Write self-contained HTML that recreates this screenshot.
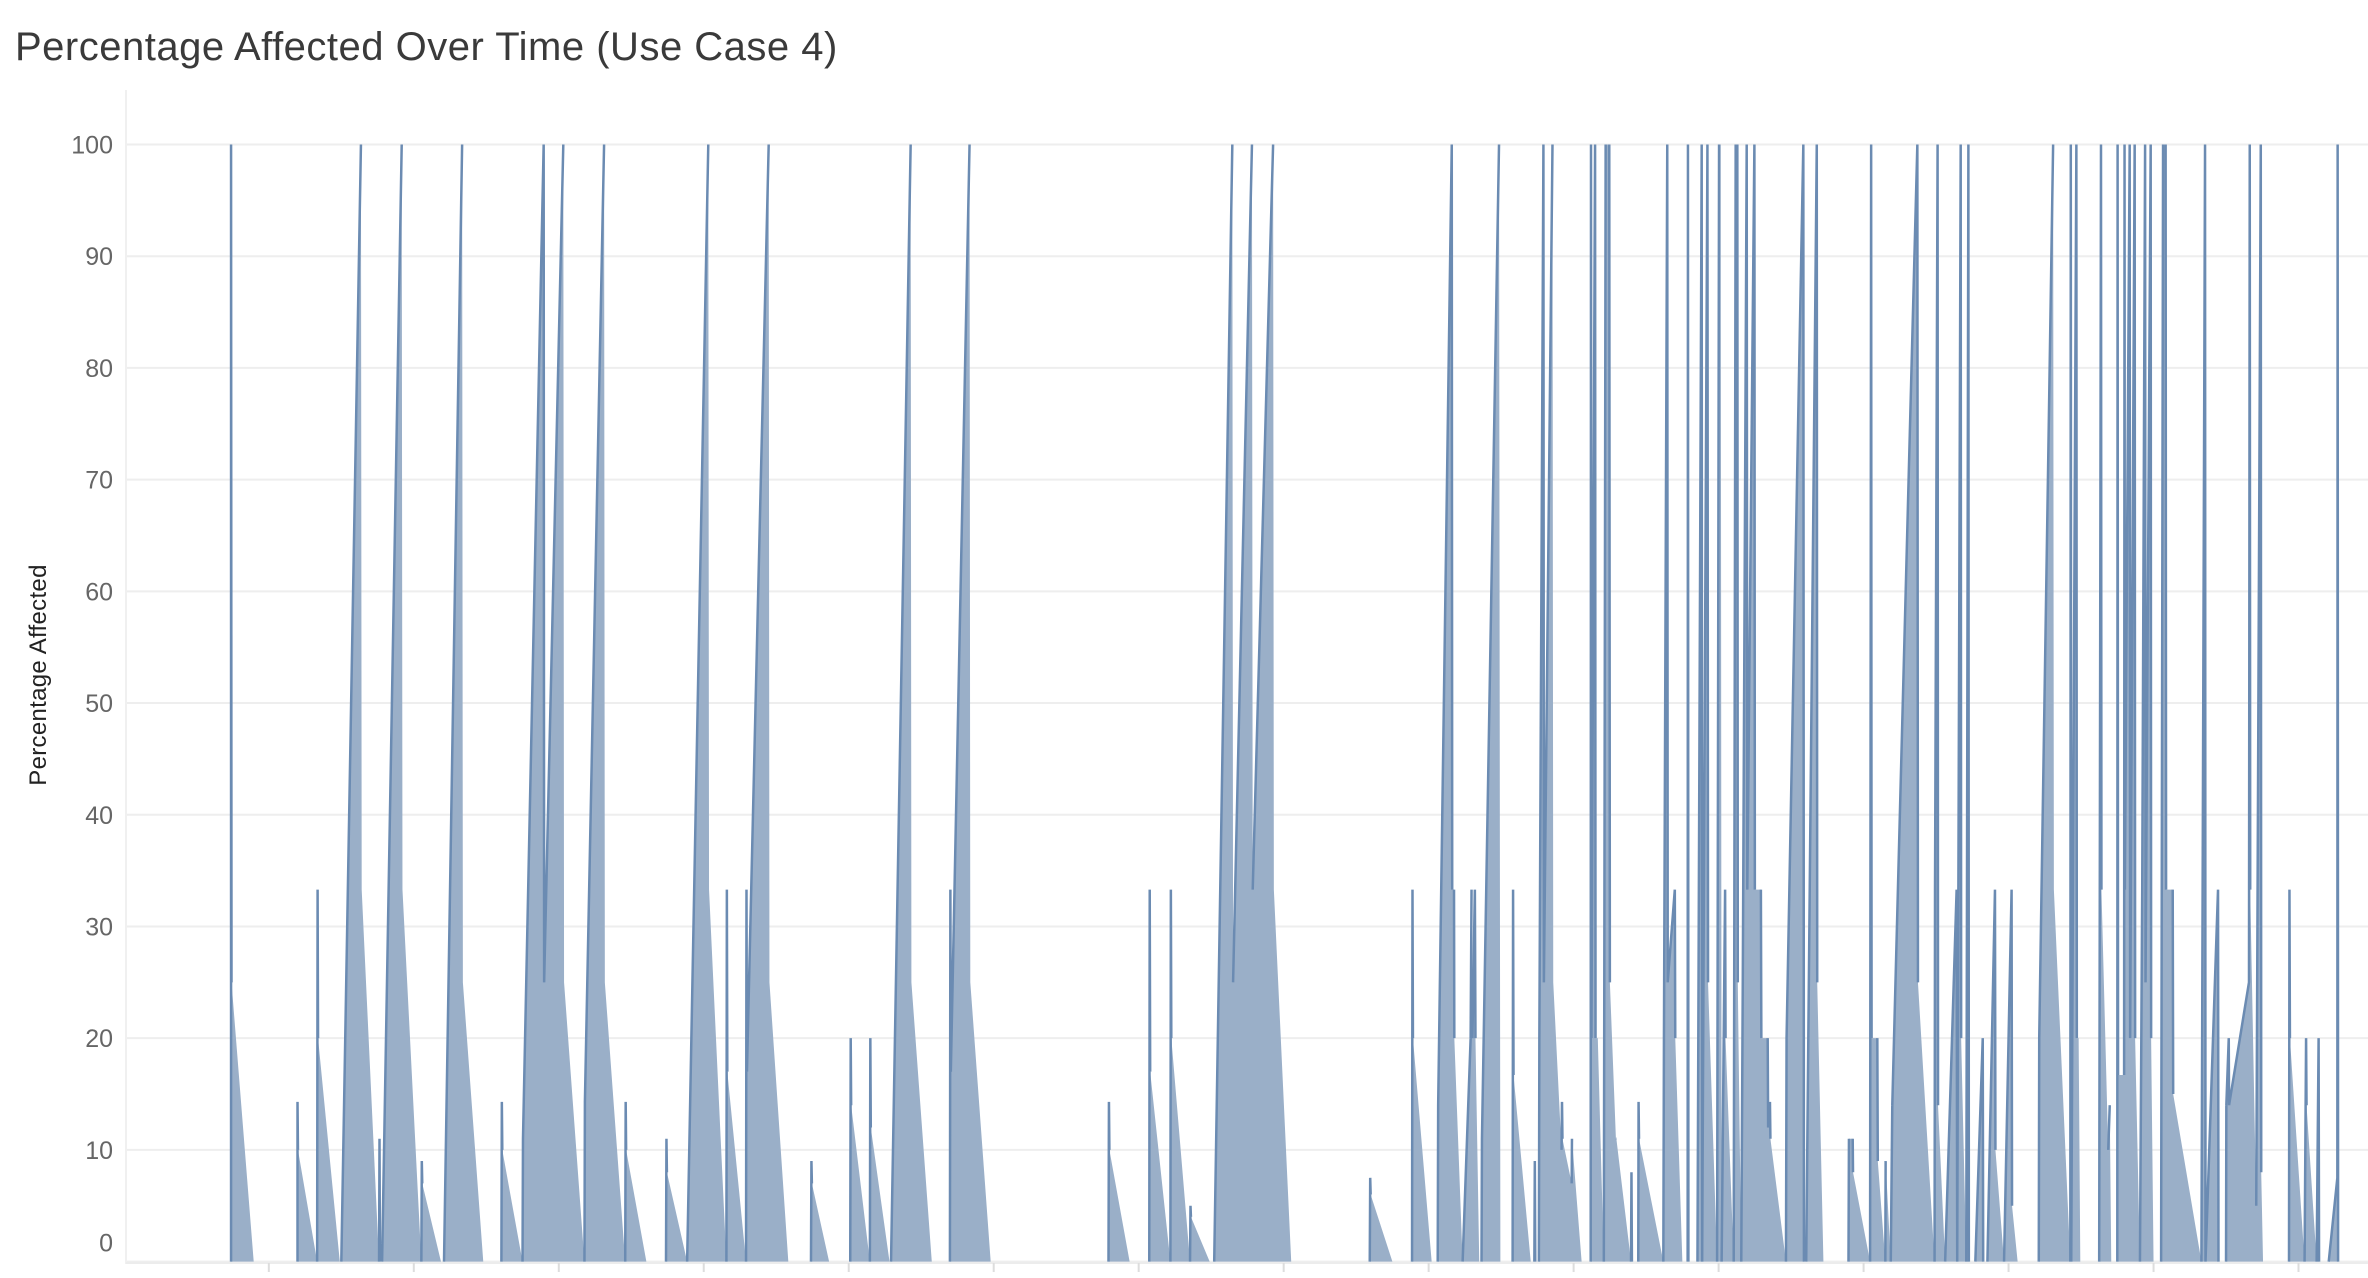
<!DOCTYPE html>
<html>
<head>
<meta charset="utf-8">
<style>
  html,body{margin:0;padding:0;background:#fff;}
  body{width:2368px;height:1278px;overflow:hidden;font-family:"Liberation Sans",sans-serif;}
  #title{position:absolute;left:15px;top:25px;font-size:40px;color:#3a3a3a;white-space:nowrap;letter-spacing:0.5px;}
</style>
</head>
<body>
<div id="title">Percentage Affected Over Time (Use Case 4)</div>
<svg id="chart" width="2368" height="1278" style="position:absolute;left:0;top:0" xmlns="http://www.w3.org/2000/svg">
  <g id="grid"></g>
  <g id="yaxis"></g>
  <g id="xaxis"></g>
  <g id="series"></g>
  <text x="0" y="0" transform="translate(46,675) rotate(-90)" text-anchor="middle" font-family="Liberation Sans, sans-serif" font-size="24" fill="#222" letter-spacing="0.3">Percentage Affected</text>
</svg>
<script>
// time index (day units) and percentage values
const times = [
153,153,153.3,168,
197,197,197.3,210,210.3,210.6,225,
226,239,239.5,251,251.3,251.6,
253,266,266.5,279,279.3,279.6,292,
294,306,306.5,320,
332,332.3,332.6,346,346.3,360,360.3,373,373.5,387,387.3,400,400.5,414,414.3,414.6,428,
441,441.3,441.6,455,469,469.5,481,481.3,481.6,494,494.3,494.6,509,509.5,522,
537,537.3,537.6,549,
563,563.3,563.6,576,576.3,576.6,589,590,603,603.5,617,
629,629.3,629.6,642,642.5,656,
734,734.3,734.6,748,
761,761.3,761.6,775,775.3,775.6,788,788.3,788.6,801,804,816,816.5,829,829.5,843,843.5,855,
907,907.3,907.6,922,
935,935.3,935.6,948,
952,952.3,961.3,961.6,962.8,963,968.5,973.8,974.4,975,976.6,977,979.5,981,981.3,992.6,993.5,
1001.6,1001.9,1002.2,1013.6,
1016,1016.3,1016.6,1019,1019.3,1022,1022.3,1028,1028.5,1034,1034.3,1034.6,1040.7,1040.9,1047.3,
1053.3,1053.5,1053.8,1056.2,1056.5,1058,1062,1063.2,1065.6,1066,1070,1070.3,1080,1080.3,1080.6,1084.8,1085,1085.3,1101.4,1101.8,1104,1104.3,1109,1109.3,1114,1117.5,1117.7,1118,1124,1126.8,1127.1,1130.6,1131,1137,1138.3,1139.4,1140,1142.3,1142.6,1148,1149.3,1150.4,1150.7,1153,1154,1156.6,1157,1161.7,1162,1166,1166.3,1170.5,1170.8,1172,1172.3,1182.6,1183,1194.1,1194.5,1196,1203,1203.3,1207.4,
1224,1224.3,1226.8,1227,1238.3,1239,1239.3,1243.1,1243.4,1248.4,1248.6,1252,1253,1269.6,1270,1281,1281.3,1283,1283.3,1288,1295.6,1296,1298.3,1298.6,1302,1303.4,1303.7,1308,1312.9,1313.2,1316,1321,1321.3,1327,1332,1332.3,1336,
1350,1350.3,1359.5,1360,1370.9,1371.2,1371.5,1374.9,1375.2,1376.4,1377.5,
1390,1391.2,1391.5,1396,1397,1398,1402,1402.2,1402.5,1406.5,1406.8,1407,1410.2,1410.5,1412,1413.5,1413.8,1417,1418.5,1420.4,1420.7,1424.1,1424.4,1426,1431,1432.3,1434,1434.3,1438.7,1439,1444,1457.7,1460.1,1460.4,1468.7,1469,1474,1474.2,1475.8,1476,1489.2,1489.7,1490,1494,1497,1497.3,1498.5,
1515.7,1516,1516.3,1526,1527,1527.3,1534,1535.3,1535.6,1542,1547.7,1547.9,1548.2
];
const values = [
0,100,25,0,
0,14.3,10,0,33.3,20,0,
0,100,33.3,0,11,0,
0,100,33.3,0,9,7,0,
0,100,25,0,
0,14.3,10,0,11,100,25,100,25,0,14.3,100,25,0,14.3,10,0,
0,11,8,0,100,33.3,0,33.3,17,0,33.3,17,100,25,0,
0,9,7,0,
0,20,14,0,20,12,0,0,100,25,0,
0,33.3,17,100,25,0,
0,14.3,10,0,
0,33.3,17,0,33.3,20,0,5,4,0,0,100,25,100,33.3,100,33.3,0,
0,7.5,6,0,
0,33.3,20,0,
0,14,100,33.3,33.3,20,0,20,33.3,20,33.3,20,0,0,11,100,0,
0,33.3,16.7,0,
0,9,0,0,20,100,25,100,25,10,14.3,11,7,11,0,
0,100,20,100,20,20,0,100,100,25,11,11,0,8,0,0,14.3,11,0,20,100,25,33.3,20,0,0,100,0,0,100,0,100,25,0,100,100,0,33.3,20,0,100,100,25,0,25,100,33.3,100,33.3,33.3,20,20,12,14.3,11,0,20,100,0,0,100,25,0,
0,11,11,8,0,100,20,20,9,0,9,0,14,100,25,0,33.3,100,14,0,33.3,0,100,20,0,100,0,0,20,0,0,33.3,10,0,33.3,5,0,
0,20,100,33.3,0,100,0,100,20,20,0,
0,100,33.3,10,14,0,0,100,16.7,16.7,100,33.3,100,20,60,100,20,0,33.3,100,25,100,20,0,0,100,100,33.3,33.3,15,11,0,100,0,33.3,0,0,14,20,14,25,100,33.3,5,100,8,0,
0,33.3,20,0,20,14,0,20,0,0,7.5,100,0
];
const yTicks = [0,10,20,30,40,50,60,70,80,90,100];
const xTickTimes = [178,274,370,466,562,658,754,850,946,1042,1138,1234,1330,1426,1522];

const NS = 'http://www.w3.org/2000/svg';
const X0 = 126, X1 = 2368, Y0 = 1261.6, Y100 = 144.5;
function xScale(t){ return t * 1.5102; }
function yScale(v){ return Y0 - (v/100) * (Y0 - Y100); }

const grid = document.getElementById('grid');
const yaxis = document.getElementById('yaxis');
yTicks.forEach(function(v){
  const ln = document.createElementNS(NS,'line');
  
  
  ln.setAttribute('x1',X0); ln.setAttribute('x2',X1);
  ln.setAttribute('y1',yScale(v)); ln.setAttribute('y2',yScale(v));
  ln.setAttribute('stroke','#eeeeee'); ln.setAttribute('stroke-width','2');
  grid.appendChild(ln);
  const tx = document.createElementNS(NS,'text');
  
  
  tx.setAttribute('x',113);
  tx.setAttribute('y', v === 0 ? yScale(v) - 10 : yScale(v) + 9);
  tx.setAttribute('text-anchor','end');
  tx.setAttribute('font-family','Liberation Sans, sans-serif');
  tx.setAttribute('font-size','25');
  tx.setAttribute('fill','#666');
  tx.textContent = String(v);
  yaxis.appendChild(tx);
});
const la = document.createElementNS(NS,'line');


la.setAttribute('x1',X0); la.setAttribute('x2',X0); la.setAttribute('y1',90); la.setAttribute('y2',1264);
la.setAttribute('stroke','#f0f0f0'); la.setAttribute('stroke-width','2');
yaxis.appendChild(la);

const xaxis = document.getElementById('xaxis');
const xa = document.createElementNS(NS,'line');


xa.setAttribute('x1',X0); xa.setAttribute('x2',X1); xa.setAttribute('y1',1263); xa.setAttribute('y2',1263);
xa.setAttribute('stroke','#ececec'); xa.setAttribute('stroke-width','2');
xaxis.appendChild(xa);
xTickTimes.forEach(function(t){
  const tk = document.createElementNS(NS,'line');
  
  
  tk.setAttribute('x1',xScale(t)); tk.setAttribute('x2',xScale(t));
  tk.setAttribute('y1',1263); tk.setAttribute('y2',1272);
  tk.setAttribute('stroke','#dddddd'); tk.setAttribute('stroke-width','2');
  xaxis.appendChild(tk);
});

const series = document.getElementById('series');
let d = 'M' + xScale(times[0]).toFixed(2) + ',' + Y0;
for (let i = 0; i < times.length; i++){
  d += ' L' + xScale(times[i]).toFixed(2) + ',' + yScale(values[i]).toFixed(2);
}
d += ' L' + xScale(times[times.length-1]).toFixed(2) + ',' + Y0 + ' Z';
const area = document.createElementNS(NS,'path');


area.setAttribute('d', d);
area.setAttribute('fill','#9aafc8');
series.appendChild(area);

// dark stroke only on rising / vertical segments (falling slopes stay light)
let ld = '';
for (let i = 0; i < times.length - 1; i++){
  const a = values[i], b = values[i+1];
  const dt = times[i+1] - times[i];
  if (a === 0 && b === 0) continue;
  if (b > a || dt < 0.5) {
    ld += ' M' + xScale(times[i]).toFixed(2) + ',' + yScale(a).toFixed(2) +
          ' L' + xScale(times[i+1]).toFixed(2) + ',' + yScale(b).toFixed(2);
  }
}
const line = document.createElementNS(NS,'path');


line.setAttribute('d', ld);
line.setAttribute('fill','none');
line.setAttribute('stroke','#6b8bb2');
line.setAttribute('stroke-width','2.5');
series.appendChild(line);
</script>
</body>
</html>
